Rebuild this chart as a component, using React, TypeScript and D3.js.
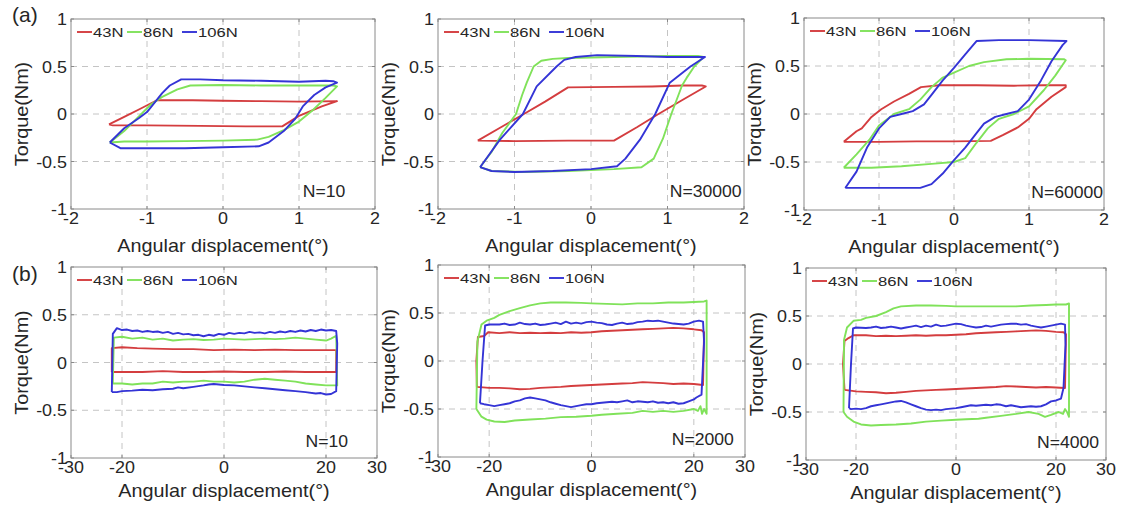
import * as d3 from "d3";

type Pt = [number, number];

// torque loops, panel (a): angular displacement in degrees, torque in Nm
const a10_43: Pt[] = [[-1.5,-0.11],[-1.3,-0.03],[-1.1,0.05],[-0.87,0.145],[-0.4,0.145],[0,0.14],[0.5,0.135],[1.0,0.13],[1.5,0.135],[1.3,0.08],[1.0,-0.02],[0.78,-0.13],[0.3,-0.13],[-0.3,-0.125],[-1.0,-0.12],[-1.45,-0.12],[-1.5,-0.11]];
const a10_86: Pt[] = [[-1.49,-0.3],[-1.3,-0.18],[-1.1,-0.02],[-0.95,0.1],[-0.8,0.18],[-0.6,0.26],[-0.43,0.3],[0,0.305],[0.5,0.3],[1.0,0.3],[1.45,0.3],[1.5,0.29],[1.35,0.17],[1.18,0.04],[1.0,-0.08],[0.8,-0.17],[0.6,-0.24],[0.45,-0.27],[0,-0.28],[-0.5,-0.285],[-1.0,-0.29],[-1.3,-0.29],[-1.49,-0.3]];
const a10_106: Pt[] = [[-1.49,-0.3],[-1.3,-0.15],[-1.1,-0.04],[-1.0,0.02],[-0.9,0.12],[-0.8,0.22],[-0.7,0.3],[-0.55,0.365],[-0.3,0.365],[0,0.355],[0.5,0.35],[1.0,0.34],[1.35,0.35],[1.45,0.345],[1.5,0.33],[1.35,0.28],[1.2,0.2],[1.05,0.08],[0.95,-0.05],[0.8,-0.18],[0.6,-0.3],[0.47,-0.34],[0,-0.35],[-0.5,-0.36],[-1.0,-0.36],[-1.35,-0.36],[-1.49,-0.3]];

const a30k_43: Pt[] = [[-1.48,-0.28],[-1.2,-0.15],[-0.9,-0.01],[-0.6,0.13],[-0.3,0.28],[0.3,0.285],[0.8,0.29],[1.2,0.3],[1.45,0.3],[1.5,0.29],[1.2,0.15],[0.86,-0.01],[0.6,-0.14],[0.3,-0.28],[-0.3,-0.28],[-1.0,-0.285],[-1.48,-0.28]];
const a30k_86: Pt[] = [[-1.45,-0.56],[-1.3,-0.4],[-1.16,-0.2],[-0.98,0.0],[-0.9,0.2],[-0.84,0.33],[-0.75,0.5],[-0.65,0.56],[-0.5,0.58],[-0.3,0.59],[0.3,0.6],[1.0,0.61],[1.4,0.61],[1.47,0.6],[1.35,0.5],[1.25,0.38],[1.19,0.3],[1.05,0.0],[0.94,-0.26],[0.82,-0.47],[0.66,-0.56],[0.3,-0.58],[-0.3,-0.6],[-0.9,-0.61],[-1.3,-0.6],[-1.45,-0.56]];
const a30k_106: Pt[] = [[-1.45,-0.56],[-1.19,-0.27],[-0.89,0.0],[-0.71,0.29],[-0.45,0.5],[-0.35,0.57],[-0.2,0.6],[0.08,0.62],[0.6,0.61],[1.0,0.6],[1.49,0.6],[1.3,0.5],[1.03,0.33],[0.84,0.0],[0.64,-0.27],[0.45,-0.47],[0.34,-0.55],[0,-0.58],[-0.5,-0.6],[-1.0,-0.61],[-1.3,-0.6],[-1.45,-0.56]];

const a60k_43: Pt[] = [[-1.47,-0.29],[-1.3,-0.18],[-1.23,-0.15],[-1.1,-0.03],[-0.97,0.05],[-0.8,0.13],[-0.6,0.21],[-0.44,0.28],[-0.2,0.3],[0.3,0.3],[0.8,0.295],[1.2,0.3],[1.49,0.3],[1.49,0.28],[1.3,0.18],[1.1,0.05],[1.0,-0.05],[0.85,-0.14],[0.65,-0.22],[0.49,-0.28],[0,-0.285],[-0.5,-0.285],[-1.0,-0.29],[-1.47,-0.29]];
const a60k_86: Pt[] = [[-1.47,-0.56],[-1.3,-0.42],[-1.13,-0.27],[-1.0,-0.12],[-0.8,0.0],[-0.6,0.05],[-0.45,0.15],[-0.3,0.28],[-0.15,0.38],[0,0.43],[0.2,0.5],[0.4,0.54],[0.7,0.57],[1.0,0.575],[1.47,0.57],[1.49,0.56],[1.35,0.4],[1.2,0.25],[1.0,0.08],[0.8,0.0],[0.6,-0.05],[0.45,-0.15],[0.3,-0.3],[0.15,-0.46],[0,-0.5],[-0.3,-0.52],[-0.7,-0.545],[-1.1,-0.56],[-1.47,-0.56]];
const a60k_106: Pt[] = [[-1.45,-0.77],[-1.3,-0.6],[-1.16,-0.35],[-1.0,-0.15],[-0.85,-0.03],[-0.7,0.0],[-0.55,0.03],[-0.4,0.1],[-0.3,0.2],[-0.15,0.35],[0,0.48],[0.15,0.62],[0.3,0.76],[0.6,0.77],[1.0,0.77],[1.5,0.76],[1.45,0.72],[1.3,0.55],[1.16,0.35],[1.0,0.15],[0.85,0.03],[0.7,0.0],[0.55,-0.03],[0.4,-0.1],[0.3,-0.2],[0.15,-0.35],[0,-0.48],[-0.15,-0.62],[-0.3,-0.73],[-0.45,-0.77],[-1.0,-0.77],[-1.45,-0.77]];

// panel (b)
const b10_43: Pt[] = [[-22,-0.1],[-22,0.15],[-20,0.16],[-17,0.15],[-14,0.145],[-10,0.14],[-6,0.14],[-2,0.13],[2,0.135],[6,0.13],[10,0.135],[14,0.13],[18,0.13],[21,0.13],[22,0.13],[22,-0.1],[20,-0.1],[16,-0.1],[12,-0.095],[8,-0.1],[4,-0.1],[0,-0.095],[-4,-0.1],[-8,-0.1],[-12,-0.09],[-16,-0.1],[-20,-0.1],[-22,-0.1]];
const b10_86: Pt[] = [[-21.8,-0.22],[-21.6,0.26],[-20,0.27],[-18,0.25],[-16,0.26],[-14,0.24],[-12,0.25],[-10,0.23],[-8,0.24],[-6,0.245],[-4,0.235],[-2,0.24],[0,0.25],[2,0.245],[4,0.24],[6,0.245],[8,0.25],[10,0.245],[12,0.25],[14,0.26],[16,0.25],[18,0.24],[20,0.23],[21,0.25],[22,0.28],[22.2,-0.24],[20,-0.24],[18,-0.23],[16,-0.22],[14,-0.2],[12,-0.19],[10,-0.18],[8,-0.17],[6,-0.18],[4,-0.2],[2,-0.21],[0,-0.2],[-2,-0.2],[-4,-0.19],[-6,-0.2],[-8,-0.2],[-10,-0.21],[-12,-0.2],[-14,-0.22],[-16,-0.22],[-18,-0.23],[-20,-0.22],[-21.8,-0.22]];
const b10_106: Pt[] = [[-22,-0.31],[-21.8,0.3],[-21,0.36],[-20,0.34],[-19,0.345],[-18,0.33],[-17,0.335],[-16,0.32],[-15,0.33],[-14,0.32],[-13,0.325],[-12,0.31],[-11,0.32],[-10,0.3],[-9,0.31],[-8,0.295],[-7,0.3],[-6,0.285],[-5,0.29],[-4,0.275],[-3,0.29],[-2,0.28],[-1,0.3],[0,0.29],[1,0.31],[2,0.3],[3,0.31],[4,0.305],[5,0.32],[6,0.31],[7,0.315],[8,0.305],[9,0.32],[10,0.31],[11,0.325],[12,0.315],[13,0.33],[14,0.32],[15,0.335],[16,0.325],[17,0.34],[18,0.33],[19,0.345],[20,0.335],[21,0.34],[22,0.33],[22.2,0.2],[22,-0.3],[21,-0.33],[20,-0.335],[19,-0.32],[18,-0.325],[16,-0.31],[14,-0.3],[12,-0.29],[10,-0.28],[8,-0.27],[6,-0.26],[4,-0.25],[2,-0.24],[0,-0.235],[-2,-0.225],[-3,-0.23],[-4,-0.24],[-6,-0.255],[-8,-0.27],[-9,-0.26],[-10,-0.275],[-12,-0.28],[-14,-0.29],[-16,-0.285],[-18,-0.295],[-20,-0.3],[-21,-0.31],[-22,-0.31]];

const b2k_43: Pt[] = [[-22.4,-0.27],[-22.5,0.0],[-22.2,0.25],[-21,0.26],[-20.2,0.3],[-18,0.29],[-16,0.3],[-14,0.29],[-12,0.295],[-10,0.29],[-8,0.295],[-6,0.29],[-4,0.3],[-2,0.295],[0,0.3],[2,0.31],[4,0.315],[6,0.32],[8,0.325],[10,0.33],[12,0.335],[14,0.34],[16,0.345],[18,0.34],[20,0.33],[21.5,0.32],[22,0.3],[21.8,-0.25],[20,-0.24],[18,-0.235],[16,-0.24],[14,-0.23],[12,-0.225],[10,-0.22],[8,-0.23],[6,-0.235],[4,-0.24],[2,-0.245],[0,-0.25],[-2,-0.255],[-4,-0.26],[-6,-0.27],[-8,-0.275],[-10,-0.28],[-12,-0.29],[-14,-0.295],[-16,-0.285],[-18,-0.28],[-20,-0.28],[-22.4,-0.27]];
const b2k_86: Pt[] = [[-22.5,-0.5],[-22.3,0.2],[-21.5,0.38],[-20.5,0.42],[-19,0.45],[-18,0.48],[-16,0.52],[-14,0.55],[-12,0.58],[-10,0.6],[-8,0.61],[-5,0.61],[-2,0.605],[0,0.6],[3,0.595],[6,0.59],[9,0.6],[12,0.6],[15,0.61],[18,0.61],[20,0.615],[22,0.62],[22.5,0.63],[22.5,-0.55],[22,-0.5],[21.6,-0.55],[21.3,-0.47],[20.8,-0.52],[20,-0.5],[18,-0.52],[16,-0.53],[14,-0.52],[12,-0.53],[10,-0.52],[8,-0.54],[5,-0.55],[2,-0.56],[0,-0.57],[-3,-0.58],[-6,-0.585],[-9,-0.6],[-12,-0.61],[-15,-0.62],[-17,-0.635],[-19,-0.63],[-20.5,-0.61],[-21.5,-0.58],[-22.5,-0.5]];
const b2k_106: Pt[] = [[-21.8,-0.44],[-21.3,0.0],[-20.8,0.37],[-20,0.38],[-18,0.38],[-17,0.39],[-16,0.375],[-15,0.38],[-14,0.4],[-13,0.385],[-12,0.38],[-11,0.39],[-10,0.375],[-9,0.38],[-8,0.39],[-7,0.4],[-6,0.385],[-5,0.41],[-4,0.39],[-3,0.4],[-2,0.39],[-1,0.405],[0,0.41],[1,0.4],[2,0.395],[3,0.38],[4,0.375],[5,0.39],[6,0.4],[7,0.385],[8,0.39],[9,0.405],[10,0.41],[11,0.42],[12,0.415],[13,0.42],[14,0.41],[15,0.4],[16,0.39],[17,0.385],[18,0.38],[19,0.39],[20,0.41],[21,0.42],[21.8,0.41],[22,0.2],[21.5,-0.35],[20.5,-0.38],[20,-0.4],[19,-0.42],[18,-0.44],[17,-0.445],[16,-0.43],[15,-0.44],[14,-0.43],[13,-0.435],[12,-0.42],[11,-0.43],[10,-0.425],[9,-0.42],[8,-0.43],[7,-0.41],[6,-0.42],[5,-0.43],[4,-0.425],[3,-0.43],[2,-0.435],[1,-0.44],[0,-0.45],[-1,-0.45],[-2,-0.46],[-3,-0.47],[-4,-0.48],[-5,-0.47],[-6,-0.46],[-7,-0.445],[-8,-0.43],[-9,-0.41],[-10,-0.4],[-11,-0.39],[-12,-0.38],[-13,-0.39],[-14,-0.41],[-15,-0.42],[-16,-0.44],[-17,-0.45],[-18,-0.46],[-19,-0.47],[-20,-0.46],[-21,-0.45],[-21.8,-0.44]];

const b4k_43: Pt[] = [[-22.3,-0.27],[-22.6,0.0],[-22.3,0.24],[-21.5,0.27],[-20.5,0.3],[-18,0.3],[-16,0.29],[-14,0.295],[-12,0.29],[-10,0.295],[-8,0.3],[-6,0.295],[-4,0.3],[-2,0.3],[0,0.305],[2,0.31],[4,0.32],[6,0.325],[8,0.33],[10,0.335],[12,0.34],[14,0.345],[16,0.35],[18,0.345],[20,0.335],[21.5,0.33],[22,0.31],[21.8,-0.25],[20,-0.245],[18,-0.24],[16,-0.245],[14,-0.24],[12,-0.235],[10,-0.23],[8,-0.24],[6,-0.245],[4,-0.25],[2,-0.255],[0,-0.26],[-2,-0.265],[-4,-0.27],[-6,-0.275],[-8,-0.28],[-10,-0.29],[-12,-0.3],[-14,-0.305],[-16,-0.295],[-18,-0.29],[-20,-0.285],[-22.3,-0.27]];
const b4k_86: Pt[] = [[-22.5,-0.5],[-22.4,0.25],[-21.8,0.38],[-20.5,0.45],[-19,0.46],[-18,0.48],[-16,0.5],[-14,0.54],[-12.5,0.58],[-11,0.6],[-8,0.61],[-5,0.61],[-2,0.605],[0,0.6],[3,0.6],[6,0.6],[9,0.6],[12,0.6],[15,0.61],[18,0.615],[20,0.62],[22,0.62],[22.6,0.63],[22.6,-0.55],[22.2,-0.5],[21.8,-0.47],[21.4,-0.52],[20.5,-0.5],[19,-0.53],[17.8,-0.55],[16.5,-0.52],[14.5,-0.5],[12,-0.52],[9,-0.54],[6,-0.56],[4.5,-0.57],[2,-0.575],[0,-0.58],[-3,-0.59],[-6,-0.6],[-9,-0.62],[-12,-0.63],[-15,-0.635],[-17,-0.64],[-19,-0.63],[-20.5,-0.6],[-21.8,-0.55],[-22.5,-0.5]];
const b4k_106: Pt[] = [[-21.4,-0.46],[-21,0.0],[-20.6,0.37],[-20,0.38],[-18,0.375],[-17,0.38],[-16,0.39],[-15,0.375],[-14,0.38],[-13,0.39],[-12,0.38],[-11,0.37],[-10,0.38],[-9,0.39],[-8,0.4],[-7,0.385],[-6,0.4],[-5,0.39],[-4,0.41],[-3,0.395],[-2,0.4],[-1,0.41],[0,0.42],[1,0.415],[2,0.4],[3,0.39],[4,0.38],[5,0.385],[6,0.4],[7,0.39],[8,0.4],[9,0.41],[10,0.415],[11,0.42],[12,0.42],[13,0.41],[14,0.415],[15,0.4],[16,0.39],[17,0.38],[18,0.39],[19,0.4],[20,0.41],[21,0.42],[21.8,0.41],[21.9,0.2],[21.5,-0.25],[21,-0.36],[20,-0.38],[19,-0.39],[18,-0.42],[17,-0.44],[16,-0.445],[15,-0.44],[14,-0.445],[13,-0.45],[12,-0.44],[11,-0.43],[10,-0.44],[9,-0.425],[8,-0.42],[7,-0.43],[6,-0.425],[5,-0.43],[4,-0.435],[3,-0.43],[2,-0.44],[1,-0.45],[0,-0.46],[-1,-0.465],[-2,-0.47],[-3,-0.48],[-4,-0.475],[-5,-0.48],[-6,-0.475],[-7,-0.46],[-8,-0.44],[-9,-0.42],[-10,-0.4],[-11,-0.385],[-12,-0.39],[-13,-0.4],[-14,-0.41],[-15,-0.42],[-16,-0.43],[-17,-0.44],[-18,-0.46],[-19,-0.47],[-20,-0.465],[-21,-0.47],[-21.4,-0.46]];

const forces = ["43N", "86N", "106N"];
const colors = ["#d43d3f", "#80e25a", "#3434d6"];
const cycleLabels = ["N=10", "N=30000", "N=60000", "N=10", "N=2000", "N=4000"];
const rowLabels = ["(a)", "(b)"];

const xTicksA = [-2, -1, 0, 1, 2];
const xGridA = [-1, 0, 1];
const xTicksB = [-30, -20, 0, 20, 30];
const xGridB = [-20, 0, 20];
const yTicks = [-1, -0.5, 0, 0.5, 1];
const yGrid = [-0.5, 0, 0.5];

const FONT = "'Liberation Sans', Arial, Helvetica, sans-serif";
const INK = "#262626";

const panels = [
  { box: [71, 375, 19, 209], dom: [-2, 2], ticks: xTicksA, grid: xGridA, data: [a10_43, a10_86, a10_106], note: [1.05, -0.87] },
  { box: [438, 744, 19, 209], dom: [-2, 2], ticks: xTicksA, grid: xGridA, data: [a30k_43, a30k_86, a30k_106], note: [1.03, -0.87] },
  { box: [804, 1104, 18, 210], dom: [-2, 2], ticks: xTicksA, grid: xGridA, data: [a60k_43, a60k_86, a60k_106], note: [1.03, -0.87] },
  { box: [71, 377, 267, 458], dom: [-30, 30], ticks: xTicksB, grid: xGridB, data: [b10_43, b10_86, b10_106], note: [16, -0.88] },
  { box: [438, 745, 265, 457], dom: [-30, 30], ticks: xTicksB, grid: xGridB, data: [b2k_43, b2k_86, b2k_106], note: [15.7, -0.88] },
  { box: [806, 1106, 268, 460], dom: [-30, 30], ticks: xTicksB, grid: xGridB, data: [b4k_43, b4k_86, b4k_106], note: [16.2, -0.88] },
];

function Txt({ x, y, sx = 1.12, size, anchor = "start", rot = 0, children }: any) {
  return (
    <text
      transform={`translate(${x},${y}) rotate(${rot}) scale(${sx},1)`}
      fontSize={size}
      fontFamily={FONT}
      fill={INK}
      textAnchor={anchor}
    >
      {children}
    </text>
  );
}

function Panel({ p, i }: any) {
  const [x0, x1, y0, y1] = p.box;
  const x = d3.scaleLinear().domain(p.dom).range([x0, x1]);
  const y = d3.scaleLinear().domain([-1, 1]).range([y1, y0]);
  const line = d3.line<Pt>().x((d) => x(d[0])).y((d) => y(d[1]));
  const top = i < 3;
  const legendX = [6, 56, 111];

  return (
    <g>
      <rect x={x0} y={y0} width={x1 - x0} height={y1 - y0} fill="#fff" />
      {p.grid.map((g: number) => (
        <line key={"gx" + g} x1={x(g)} x2={x(g)} y1={y0} y2={y1} stroke="#c4c4c4" strokeDasharray="6,5" />
      ))}
      {yGrid.map((g) => (
        <line key={"gy" + g} x1={x0} x2={x1} y1={y(g)} y2={y(g)} stroke="#c4c4c4" strokeDasharray="6,5" />
      ))}
      {p.data.map((d: Pt[], k: number) => (
        <path key={k} d={line(d) || ""} fill="none" stroke={colors[k]} strokeWidth={1.9} strokeLinejoin="round" />
      ))}
      <rect x={x0} y={y0} width={x1 - x0} height={y1 - y0} fill="none" stroke="#8a8a8a" strokeWidth={1} />
      {p.ticks.map((t: number) => (
        <g key={"tx" + t}>
          <line x1={x(t)} x2={x(t)} y1={y1} y2={y1 - 3} stroke="#8a8a8a" />
          <line x1={x(t)} x2={x(t)} y1={y0} y2={y0 + 3} stroke="#8a8a8a" />
          <Txt x={x(t)} y={y1 + 15} size={16} anchor="middle">{String(t)}</Txt>
        </g>
      ))}
      {yTicks.map((t) => (
        <g key={"ty" + t}>
          <line x1={x0} x2={x0 + 3} y1={y(t)} y2={y(t)} stroke="#8a8a8a" />
          <line x1={x1} x2={x1 - 3} y1={y(t)} y2={y(t)} stroke="#8a8a8a" />
          <Txt x={x0 - 4} y={y(t) + 6} size={16} anchor="end">{String(t)}</Txt>
        </g>
      ))}
      {forces.map((f, k) => (
        <g key={f}>
          <line x1={x0 + legendX[k]} x2={x0 + legendX[k] + 15} y1={y0 + 13} y2={y0 + 13} stroke={colors[k]} strokeWidth={1.9} />
          <Txt x={x0 + legendX[k] + 16} y={y0 + 18} size={13} sx={1.28}>{f}</Txt>
        </g>
      ))}
      <Txt x={x(p.note[0])} y={y(p.note[1])} size={16} sx={1.1}>{cycleLabels[i]}</Txt>
      <Txt x={(x0 + x1) / 2} y={y1 + (top ? 43 : 39)} size={18} sx={1.1} anchor="middle">Angular displacement(°)</Txt>
      <Txt x={x0 - 43} y={(y0 + y1) / 2} size={18} sx={1.1} rot={-90} anchor="middle">Torque(Nm)</Txt>
    </g>
  );
}

export default function App() {
  return (
    <svg
      width={1124}
      height={509}
      style={{ position: "absolute", left: 0, top: 0, background: "#fff" }}
    >
      {panels.map((p, i) => (
        <Panel key={i} p={p} i={i} />
      ))}
      <Txt x={12} y={22} size={20} sx={1.05}>{rowLabels[0]}</Txt>
      <Txt x={12} y={281} size={20} sx={1.05}>{rowLabels[1]}</Txt>
    </svg>
  );
}
